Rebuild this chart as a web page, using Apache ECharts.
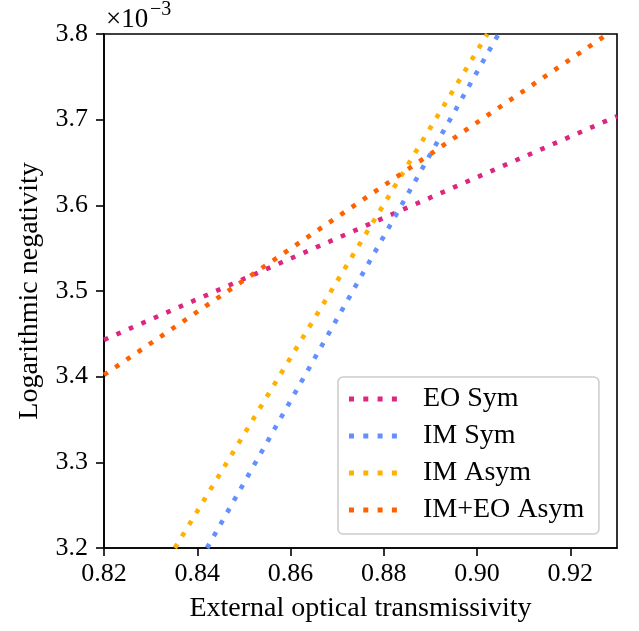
<!DOCTYPE html>
<html>
<head>
<meta charset="utf-8">
<script src="https://cdn.jsdelivr.net/npm/echarts@6/dist/echarts.min.js"></script>
<style>
  html, body { margin: 0; padding: 0; background: #ffffff; }
  #chart { width: 639px; height: 631px; }
</style>
</head>
<body>
<div id="chart"></div>
<script>
// Axis ticks
const xTicks = [0.82, 0.84, 0.86, 0.88, 0.90, 0.92];
const yTicks = [3.2, 3.3, 3.4, 3.5, 3.6, 3.7, 3.8];

// Series names and line endpoints (x, logarithmic negativity ×10^-3)
const seriesNames = ['EO Sym', 'IM Sym', 'IM Asym', 'IM+EO Asym'];
const eoSym = [[0.82, 3.443], [0.93, 3.704]];
const imSym = [[0.8421, 3.2], [0.9046, 3.8]];
const imAsym = [[0.8352, 3.2], [0.9022, 3.8]];
const imEoAsym = [[0.82, 3.402], [0.928, 3.8]];
const seriesData = [eoSym, imSym, imAsym, imEoAsym];
const colors = ['#DC267F', '#648FFF', '#FFB000', '#FE6100'];

const FONT = '"Liberation Serif", "DejaVu Serif", serif';

// Legend marker: four square dots in a row
const dotIcon = 'path://M0,0h5v5h-5z M14.3,0h5v5h-5z M28.6,0h5v5h-5z M42.9,0h5v5h-5z';

const chart = echarts.init(document.getElementById('chart'), null, { renderer: 'canvas' });

const option = {
  animation: false,
  backgroundColor: '#ffffff',
  grid: {
    left: 104, top: 34, right: 22, bottom: 83,
    show: true, borderColor: '#000', borderWidth: 1.6, backgroundColor: 'transparent'
  },
  xAxis: {
    type: 'value',
    min: 0.82, max: 0.93, interval: 0.02,
    name: 'External optical transmissivity',
    nameLocation: 'middle', nameGap: 47,
    nameTextStyle: { fontFamily: FONT, fontSize: 28, color: '#000' },
    axisLine: { show: true, onZero: false, lineStyle: { color: '#000', width: 1.6 } },
    axisTick: { show: true, inside: false, length: 8, lineStyle: { color: '#000', width: 1.6 } },
    axisLabel: {
      fontFamily: FONT, fontSize: 26, color: '#000', margin: 13,
      showMaxLabel: false,
      formatter: v => xTicks.some(t => Math.abs(t - v) < 1e-9) ? v.toFixed(2) : ''
    },
    splitLine: { show: false }
  },
  yAxis: {
    type: 'value',
    min: 3.2, max: 3.8, interval: 0.1,
    name: 'Logarithmic negativity',
    nameLocation: 'middle', nameGap: 60,
    nameTextStyle: { fontFamily: FONT, fontSize: 28, color: '#000' },
    axisLine: { show: true, onZero: false, lineStyle: { color: '#000', width: 1.6 } },
    axisTick: { show: true, inside: false, length: 8, lineStyle: { color: '#000', width: 1.6 } },
    axisLabel: {
      fontFamily: FONT, fontSize: 26, color: '#000', margin: 16,
      formatter: v => yTicks.some(t => Math.abs(t - v) < 1e-9) ? v.toFixed(1) : ''
    },
    splitLine: { show: false }
  },
  legend: {
    orient: 'vertical',
    left: 338, top: 377,
    padding: [8, 8, 10, 11],
    itemGap: 9,
    itemWidth: 48, itemHeight: 5,
    backgroundColor: 'rgba(255,255,255,0.8)',
    borderColor: '#cccccc', borderWidth: 1.5, borderRadius: 5,
    textStyle: { fontFamily: FONT, fontSize: 28, color: '#000', padding: [0, 0, 0, 21], width: 168, lineHeight: 28 },
    data: seriesNames.map((n, i) => ({ name: n, icon: dotIcon, itemStyle: { color: colors[i] } }))
  },
  graphic: [
    {
      type: 'text', left: 106, top: 6, z: 10,
      style: { text: '×10', font: '27px ' + FONT, fill: '#000' }
    },
    {
      type: 'text', left: 150, top: 0, z: 10,
      style: { text: '−3', font: '20px ' + FONT, fill: '#000' }
    }
  ],
  series: seriesNames.map((n, i) => ({
    name: n,
    type: 'line',
    data: seriesData[i],
    showSymbol: false,
    symbol: 'none',
    clip: true,
    color: colors[i],
    lineStyle: { color: colors[i], width: 4.6, type: [4.6, 9], cap: 'butt' },
    emphasis: { disabled: true }
  }))
};

chart.setOption(option);
</script>
</body>
</html>
